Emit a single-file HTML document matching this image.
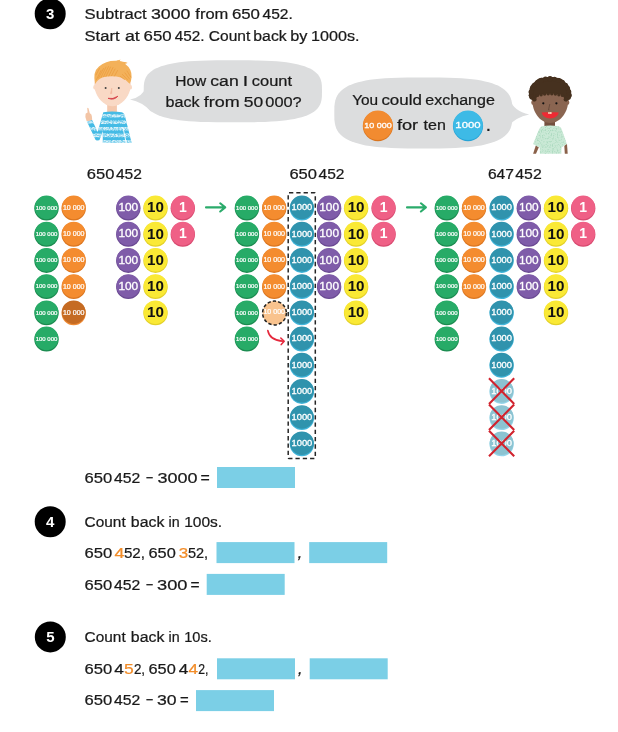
<!DOCTYPE html>
<html lang="en"><head><meta charset="utf-8"><title>Count back</title>
<style>html,body{margin:0;padding:0;background:#fff}svg{display:block}text{font-family:"Liberation Sans", sans-serif}</style>
</head><body>
<svg width="618" height="732" viewBox="0 0 618 732">
<rect width="618" height="732" fill="#fff"/>
<circle cx="50.2" cy="13.8" r="15.5" fill="#000"/>
<text x="50.2" y="19.1" font-size="15" font-weight="700" fill="#fff" text-anchor="middle">3</text>
<circle cx="50.2" cy="521.7" r="15.5" fill="#000"/>
<text x="50.2" y="527.0" font-size="15" font-weight="700" fill="#fff" text-anchor="middle">4</text>
<circle cx="50.3" cy="636.9" r="15.5" fill="#000"/>
<text x="50.3" y="642.2" font-size="15" font-weight="700" fill="#fff" text-anchor="middle">5</text>
<text x="84.6" y="19.4" font-size="15.5" fill="#1a1a1a" stroke="#1a1a1a" stroke-width="0.24" textLength="62.1" lengthAdjust="spacingAndGlyphs">Subtract</text>
<text x="150.9" y="19.4" font-size="15.5" fill="#1a1a1a" stroke="#1a1a1a" stroke-width="0.24" textLength="39.5" lengthAdjust="spacingAndGlyphs">3000</text>
<text x="195.3" y="19.4" font-size="15.5" fill="#1a1a1a" stroke="#1a1a1a" stroke-width="0.24" textLength="33.0" lengthAdjust="spacingAndGlyphs">from</text>
<text x="231.9" y="19.4" font-size="15.5" fill="#1a1a1a" stroke="#1a1a1a" stroke-width="0.24" textLength="28.1" lengthAdjust="spacingAndGlyphs">650</text>
<text x="262.5" y="19.4" font-size="15.5" fill="#1a1a1a" stroke="#1a1a1a" stroke-width="0.24" textLength="30.3" lengthAdjust="spacingAndGlyphs">452.</text>
<text x="84.6" y="40.9" font-size="15.5" fill="#1a1a1a" stroke="#1a1a1a" stroke-width="0.24" textLength="34.9" lengthAdjust="spacingAndGlyphs">Start</text>
<text x="124.9" y="40.9" font-size="15.5" fill="#1a1a1a" stroke="#1a1a1a" stroke-width="0.24" textLength="14.8" lengthAdjust="spacingAndGlyphs">at</text>
<text x="143.6" y="40.9" font-size="15.5" fill="#1a1a1a" stroke="#1a1a1a" stroke-width="0.24" textLength="28.1" lengthAdjust="spacingAndGlyphs">650</text>
<text x="174.7" y="40.9" font-size="15.5" fill="#1a1a1a" stroke="#1a1a1a" stroke-width="0.24" textLength="29.8" lengthAdjust="spacingAndGlyphs">452.</text>
<text x="208.8" y="40.9" font-size="15.5" fill="#1a1a1a" stroke="#1a1a1a" stroke-width="0.24" textLength="41.5" lengthAdjust="spacingAndGlyphs">Count</text>
<text x="253.3" y="40.9" font-size="15.5" fill="#1a1a1a" stroke="#1a1a1a" stroke-width="0.24" textLength="33.4" lengthAdjust="spacingAndGlyphs">back</text>
<text x="290.2" y="40.9" font-size="15.5" fill="#1a1a1a" stroke="#1a1a1a" stroke-width="0.24" textLength="17.2" lengthAdjust="spacingAndGlyphs">by</text>
<text x="311.0" y="40.9" font-size="15.5" fill="#1a1a1a" stroke="#1a1a1a" stroke-width="0.24" textLength="48.5" lengthAdjust="spacingAndGlyphs">1000s.</text>
<path d="M322.0 91.3 L321.9 96.9 L321.5 100.0 L320.9 102.5 L320.1 104.6 L319.0 106.6 L317.7 108.3 L316.1 109.9 L314.3 111.4 L312.3 112.8 L310.0 114.0 L307.4 115.2 L304.6 116.3 L301.6 117.2 L298.2 118.1 L294.6 118.9 L290.7 119.6 L286.4 120.3 L281.8 120.8 L276.7 121.3 L271.2 121.6 L265.0 121.9 L257.8 122.1 L249.1 122.3 L232.9 122.3 L216.6 122.3 L207.9 122.1 L200.7 121.9 L194.5 121.6 L189.0 121.3 L183.9 120.8 L179.3 120.3 L175.0 119.6 L171.1 118.9 L167.5 118.1 L164.1 117.2 L161.1 116.3 L158.3 115.2 L155.7 114.0 L153.4 112.8 L151.4 111.4 L149.6 109.9 L148.0 108.3 L146.7 106.6 L145.6 104.6 L144.8 102.5 L144.2 100.0 L143.8 96.9 L143.7 91.3 L143.8 85.7 L144.2 82.6 L144.8 80.1 L145.6 78.0 L146.7 76.0 L148.0 74.3 L149.6 72.7 L151.4 71.2 L153.4 69.8 L155.7 68.6 L158.3 67.4 L161.1 66.3 L164.1 65.4 L167.5 64.5 L171.1 63.7 L175.0 63.0 L179.3 62.3 L183.9 61.8 L189.0 61.3 L194.5 61.0 L200.7 60.7 L207.9 60.5 L216.6 60.3 L232.8 60.3 L249.1 60.3 L257.8 60.5 L265.0 60.7 L271.2 61.0 L276.7 61.3 L281.8 61.8 L286.4 62.3 L290.7 63.0 L294.6 63.7 L298.2 64.5 L301.6 65.4 L304.6 66.3 L307.4 67.4 L310.0 68.6 L312.3 69.8 L314.3 71.2 L316.1 72.7 L317.7 74.3 L319.0 76.0 L320.1 78.0 L320.9 80.1 L321.5 82.6 L321.9 85.7 Z" fill="#dcddde"/>
<path d="M146.5 86 Q143 97 130 99.6 Q142.5 102 151.5 112 Z" fill="#dcddde"/>
<text x="175.2" y="85.6" font-size="15.5" fill="#1a1a1a" stroke="#1a1a1a" stroke-width="0.24" textLength="31.0" lengthAdjust="spacingAndGlyphs">How</text>
<text x="210.3" y="85.6" font-size="15.5" fill="#1a1a1a" stroke="#1a1a1a" stroke-width="0.24" textLength="28.4" lengthAdjust="spacingAndGlyphs">can</text>
<text x="242.8" y="85.6" font-size="15.5" fill="#1a1a1a" stroke="#1a1a1a" stroke-width="0.24" textLength="5.4" lengthAdjust="spacingAndGlyphs">I</text>
<text x="251.8" y="85.6" font-size="15.5" fill="#1a1a1a" stroke="#1a1a1a" stroke-width="0.24" textLength="40.2" lengthAdjust="spacingAndGlyphs">count</text>
<text x="165.6" y="106.7" font-size="15.5" fill="#1a1a1a" stroke="#1a1a1a" stroke-width="0.24" textLength="34.1" lengthAdjust="spacingAndGlyphs">back</text>
<text x="203.8" y="106.7" font-size="15.5" fill="#1a1a1a" stroke="#1a1a1a" stroke-width="0.24" textLength="35.9" lengthAdjust="spacingAndGlyphs">from</text>
<text x="243.8" y="106.7" font-size="15.5" fill="#1a1a1a" stroke="#1a1a1a" stroke-width="0.24" textLength="19.4" lengthAdjust="spacingAndGlyphs">50</text>
<text x="265.3" y="106.7" font-size="15.5" fill="#1a1a1a" stroke="#1a1a1a" stroke-width="0.24" textLength="36.4" lengthAdjust="spacingAndGlyphs">000?</text>
<path d="M512.5 113.0 L512.4 119.4 L512.0 122.9 L511.4 125.7 L510.6 128.2 L509.5 130.4 L508.2 132.4 L506.6 134.2 L504.8 135.9 L502.8 137.5 L500.5 138.9 L498.0 140.3 L495.1 141.5 L492.1 142.6 L488.7 143.6 L485.1 144.5 L481.2 145.4 L476.9 146.1 L472.3 146.7 L467.2 147.2 L461.7 147.6 L455.5 148.0 L448.4 148.2 L439.6 148.4 L423.4 148.4 L407.2 148.4 L398.4 148.2 L391.3 148.0 L385.1 147.6 L379.6 147.2 L374.5 146.7 L369.9 146.1 L365.6 145.4 L361.7 144.5 L358.1 143.6 L354.7 142.6 L351.7 141.5 L348.8 140.3 L346.3 138.9 L344.0 137.5 L342.0 135.9 L340.2 134.2 L338.6 132.4 L337.3 130.4 L336.2 128.2 L335.4 125.7 L334.8 122.9 L334.4 119.4 L334.3 113.0 L334.4 106.5 L334.8 103.0 L335.4 100.2 L336.2 97.7 L337.3 95.5 L338.6 93.5 L340.2 91.7 L342.0 90.0 L344.0 88.4 L346.3 87.0 L348.8 85.6 L351.7 84.4 L354.7 83.3 L358.1 82.3 L361.7 81.4 L365.6 80.5 L369.9 79.8 L374.5 79.2 L379.6 78.7 L385.1 78.3 L391.3 77.9 L398.4 77.7 L407.2 77.5 L423.4 77.5 L439.6 77.5 L448.4 77.7 L455.5 77.9 L461.7 78.3 L467.2 78.7 L472.3 79.2 L476.9 79.8 L481.2 80.5 L485.1 81.4 L488.7 82.3 L492.1 83.3 L495.1 84.4 L498.0 85.6 L500.5 87.0 L502.8 88.4 L504.8 90.0 L506.6 91.7 L508.2 93.5 L509.5 95.5 L510.6 97.7 L511.4 100.2 L512.0 103.0 L512.4 106.5 Z" fill="#dcddde"/>
<path d="M510 99.5 Q513.5 111 529.2 114.5 Q515 117.5 507.5 127 Z" fill="#dcddde"/>
<text x="352.2" y="105.2" font-size="15.5" fill="#1a1a1a" stroke="#1a1a1a" stroke-width="0.24" textLength="26.0" lengthAdjust="spacingAndGlyphs">You</text>
<text x="381.4" y="105.2" font-size="15.5" fill="#1a1a1a" stroke="#1a1a1a" stroke-width="0.24" textLength="40.5" lengthAdjust="spacingAndGlyphs">could</text>
<text x="425.3" y="105.2" font-size="15.5" fill="#1a1a1a" stroke="#1a1a1a" stroke-width="0.24" textLength="69.6" lengthAdjust="spacingAndGlyphs">exchange</text>
<circle cx="377.9" cy="126.1" r="15.1" fill="#d9751f"/>
<circle cx="377.9" cy="125.2" r="14.8" fill="#f28b30"/>
<text x="377.9" y="127.7" font-size="7.6" stroke="#fff" stroke-width="0.3" fill="#fff" text-anchor="middle" textLength="27.5" lengthAdjust="spacingAndGlyphs">10 000</text>
<text x="396.9" y="129.8" font-size="15.5" fill="#1a1a1a" stroke="#1a1a1a" stroke-width="0.24" textLength="21.3" lengthAdjust="spacingAndGlyphs">for</text>
<text x="423.6" y="129.8" font-size="15.5" fill="#1a1a1a" stroke="#1a1a1a" stroke-width="0.24" textLength="22.3" lengthAdjust="spacingAndGlyphs">ten</text>
<circle cx="468.0" cy="126.1" r="15.1" fill="#27a3d6"/>
<circle cx="468.0" cy="125.2" r="14.8" fill="#3dbae6"/>
<text x="468.0" y="128.4" font-size="9.4" stroke="#fff" stroke-width="0.3" fill="#fff" text-anchor="middle" textLength="25.3" lengthAdjust="spacingAndGlyphs">1000</text>
<text x="486.3" y="130.6" font-size="15.5" font-weight="700" fill="#1a1a1a">.</text>
<g>
<defs><clipPath id="shirtclip"><path d="M103.3 112.3 Q112 110.6 121.7 112.3 Q124.3 113 125.2 117 L131.6 142.8 L102.8 142.8 L102.8 131 L99.5 140 Q98 141.6 95.6 140 L86.8 121.2 L92 119.8 L97.6 132 Z"/></clipPath></defs>
<rect x="107.2" y="102" width="9.7" height="10.5" fill="#f4c8ad"/>
<path d="M103.3 112.3 Q112 110.6 121.7 112.3 Q124.3 113 125.2 117 L131.6 142.8 L102.8 142.8 L102.8 131 L99.5 140 Q98 141.6 95.6 140 L86.8 121.2 L92 119.8 L97.6 132 Z" fill="#45bbe5"/>
<defs><filter id="rough" x="-5%" y="-5%" width="110%" height="110%"><feTurbulence type="fractalNoise" baseFrequency="0.55 0.9" numOctaves="2" seed="7" result="n"/><feColorMatrix in="n" type="matrix" values="0 0 0 0 1  0 0 0 0 1  0 0 0 0 1  0 0 0 3.2 -1.05" result="m"/><feComposite in="SourceGraphic" in2="m" operator="in"/></filter></defs>
<g clip-path="url(#shirtclip)"><g filter="url(#rough)" stroke="#e6f6fc" stroke-width="3.6" fill="none"><path d="M84 115.6 H134"/><path d="M84 122.3 H134"/><path d="M84 128.7 H134"/><path d="M84 135.4 H134"/><path d="M84 141.9 H134"/></g><g stroke="#bfe8f6" stroke-width="2.2" fill="none" opacity="0.45"><path d="M84 115.6 H134"/><path d="M84 122.3 H134"/><path d="M84 128.7 H134"/><path d="M84 135.4 H134"/><path d="M84 141.9 H134"/></g></g>
<path d="M122.9 127 L126.2 142.9" stroke="#fff" stroke-width="0.9" fill="none"/>
<path d="M86.6 121 Q84.6 117 85.6 113.8 Q86.6 112.6 87.6 112.4 L87.2 108.2 Q87.7 107.2 88.5 108.2 L89.8 113.2 Q91.6 113.6 91.8 116 L92.2 119.8 Q89 121.5 86.6 121 Z" fill="#f3c5a6"/>
<path d="M94.3 84 C94.3 92.5 98.6 100 105.5 104.3 Q112.5 108.2 119.5 104.3 C126.4 100 130.8 92.5 130.8 84 C130.8 70 122 64 112.5 64 C103 64 94.3 70 94.3 84 Z" fill="#f9d9c5"/>
<ellipse cx="94.6" cy="87.2" rx="1.3" ry="2.2" fill="#f9d9c5"/><ellipse cx="130.7" cy="87.2" rx="1.3" ry="2.2" fill="#f9d9c5"/>
<path d="M95.2 84 Q92.3 72 99 66.5 Q106 60.5 116 60.8 L118.5 60.2 L119 61 L127.5 63.2 L125 63.8 Q132 69 131.6 77 Q131.4 81 129.6 83.8 Q126.5 79.5 121 77.4 Q112 75.4 103 77.3 Q97.5 79.5 95.2 84 Z" fill="#f3b15a"/>
<g stroke="#e9983a" stroke-width="0.75" fill="none" opacity="0.85" stroke-linecap="round"><path d="M96.5 79.5 L101 70.5"/><path d="M98.5 78 L103.5 68.5"/><path d="M101 77.3 L106 67"/><path d="M103.5 76.8 L108.5 66.5"/><path d="M106 76.4 L110.5 67"/><path d="M108.8 76 L113 67.5"/><path d="M111.5 75.8 L115 69"/><path d="M114.5 76 L117.5 70.5"/><path d="M96 75 L99.5 68.5"/><path d="M120.5 76.5 L124.5 79.5"/><path d="M122.5 74.5 L127.5 79.8"/><path d="M125 73 L129.5 79"/><path d="M127 71 L130.8 77"/></g>
<path d="M116 61.2 L120.5 59.6 L119.5 61.2 L127.8 62.6 L122 64 Z" fill="#f3b15a"/>
<circle cx="105.6" cy="87.9" r="1.0" fill="#404040"/><circle cx="118.8" cy="87.9" r="1.0" fill="#404040"/>
<path d="M111.8 88 L110.4 93.8 L111.9 93.6 Z" fill="#f0b69c" stroke="#f0b69c" stroke-width="0.5"/>
<path d="M108 98.3 Q112.5 99.6 117.9 96.2 Q114 100.8 108 98.3 Z" fill="#d3353f" stroke="#d3353f" stroke-width="0.7" stroke-linejoin="round"/>
</g>
<g>
<path d="M535.8 145.6 L538.8 147.2 L536 153.8 L533.1 153.8 Z" fill="#8a6049"/><path d="M564.3 145.8 L567 144 L567.7 153.8 L564.8 153.8 Z" fill="#8a6049"/>
<path d="M564 146 L567.2 144.5 L570.4 153.8 L567.3 153.8 Z" fill="#8a6049" opacity="0"/>
<rect x="544.4" y="118" width="10.6" height="8.6" fill="#74503f"/>
<path d="M541.8 126.3 Q550 124.8 558.8 126.3 Q561 127 562 130 L566.7 143.8 L561.5 147.6 L561.3 153.8 L539.9 153.8 L539.8 147.6 L533.1 144 L539 129.5 Q540 127 541.8 126.3 Z" fill="#cae9d6"/>
<defs><filter id="speck" x="-5%" y="-5%" width="110%" height="110%"><feTurbulence type="fractalNoise" baseFrequency="0.8 0.6" numOctaves="2" seed="3" result="n"/><feColorMatrix in="n" type="matrix" values="0 0 0 0 1  0 0 0 0 1  0 0 0 0 1  0 0 0 3.4 -1.6" result="m"/><feComposite in="SourceGraphic" in2="m" operator="in"/></filter></defs>
<path filter="url(#speck)" d="M541.8 126.3 Q550 124.8 558.8 126.3 Q561 127 562 130 L566.7 143.8 L561.5 147.6 L561.3 153.8 L539.9 153.8 L539.8 147.6 L533.1 144 L539 129.5 Q540 127 541.8 126.3 Z" fill="#86c7a2" opacity="0.42"/>
<path d="M532.3 100 C532.3 112 540 123 550.2 123 C560.4 123 568.3 112 568.3 100 C568.3 88 560 84 550.2 84 C540 84 532.3 88 532.3 100 Z" fill="#8a6551"/>
<ellipse cx="532.8" cy="102.4" rx="1.5" ry="2.4" fill="#8a6551"/><ellipse cx="567.8" cy="102.4" rx="1.5" ry="2.4" fill="#8a6551"/>
<path d="M533.5 101.5 Q528.5 97 529.2 91.5 Q529.5 85 534.5 82 Q538 77.2 544.5 77.8 Q550 75.6 555.5 77.8 Q562.5 77.6 565.5 82.5 Q570.8 86 570.6 92.5 Q571 97.5 566.8 101.6 Q565.2 101.5 564.5 99 Q563.5 95.6 560.5 94.6 Q551 92.6 540 94.6 Q537 95.6 536 99 Q535.2 101.5 533.5 101.5 Z" fill="#46311f"/>
<g fill="#46311f"><circle cx="531.7" cy="97.3" r="2.4"/><circle cx="530.9" cy="95.2" r="2.3"/><circle cx="531.0" cy="92.0" r="2.5"/><circle cx="532.3" cy="88.5" r="2.4"/><circle cx="534.5" cy="85.2" r="2.3"/><circle cx="537.5" cy="82.5" r="2.5"/><circle cx="541.3" cy="80.4" r="2.7"/><circle cx="545.5" cy="79.1" r="2.6"/><circle cx="550.0" cy="78.7" r="2.6"/><circle cx="554.5" cy="79.1" r="2.4"/><circle cx="558.7" cy="80.4" r="2.5"/><circle cx="562.5" cy="82.5" r="2.4"/><circle cx="565.5" cy="85.2" r="2.4"/><circle cx="567.7" cy="88.5" r="2.3"/><circle cx="569.0" cy="92.0" r="2.4"/><circle cx="569.1" cy="95.2" r="2.7"/><circle cx="568.3" cy="97.3" r="2.6"/><circle cx="537.5" cy="95.4" r="1.7"/><circle cx="541.1" cy="94.7" r="1.7"/><circle cx="544.6" cy="94.1" r="1.7"/><circle cx="548.2" cy="93.8" r="1.7"/><circle cx="551.8" cy="93.8" r="1.7"/><circle cx="555.4" cy="94.1" r="1.7"/><circle cx="558.9" cy="94.7" r="1.7"/><circle cx="562.5" cy="95.4" r="1.7"/><circle cx="534.6" cy="99.6" r="2"/><circle cx="565.6" cy="99.6" r="2"/></g>
<circle cx="543.3" cy="103.3" r="1.1" fill="#111"/><circle cx="556.4" cy="103.3" r="1.1" fill="#111"/>
<path d="M549.8 104 L548.5 109.9 L549.4 109.9" fill="none" stroke="#5a4034" stroke-width="0.7"/>
<path d="M541.6 112.6 Q545.5 112 550 112.6 Q554.5 112 558.8 112.6 Q557.4 118.4 550.2 118.4 Q543 118.4 541.6 112.6 Z" fill="#ee2a33"/>
<rect x="548.2" y="112.2" width="1.6" height="1.6" fill="#fbf3d4"/><rect x="550" y="112.2" width="1.6" height="1.6" fill="#fbf3d4"/>
</g>
<text x="86.8" y="179.4" font-size="15.5" fill="#1a1a1a" stroke="#1a1a1a" stroke-width="0.24" textLength="27.6" lengthAdjust="spacingAndGlyphs">650</text>
<text x="115.9" y="179.4" font-size="15.5" fill="#1a1a1a" stroke="#1a1a1a" stroke-width="0.24" textLength="26.0" lengthAdjust="spacingAndGlyphs">452</text>
<text x="289.4" y="179.4" font-size="15.5" fill="#1a1a1a" stroke="#1a1a1a" stroke-width="0.24" textLength="27.6" lengthAdjust="spacingAndGlyphs">650</text>
<text x="318.5" y="179.4" font-size="15.5" fill="#1a1a1a" stroke="#1a1a1a" stroke-width="0.24" textLength="26.0" lengthAdjust="spacingAndGlyphs">452</text>
<text x="487.9" y="179.4" font-size="15.5" fill="#1a1a1a" stroke="#1a1a1a" stroke-width="0.24" textLength="26.0" lengthAdjust="spacingAndGlyphs">647</text>
<text x="515.3" y="179.4" font-size="15.5" fill="#1a1a1a" stroke="#1a1a1a" stroke-width="0.24" textLength="26.4" lengthAdjust="spacingAndGlyphs">452</text>
<g>
<circle cx="46.5" cy="208.3" r="12.2" fill="#1b8a4f"/>
<circle cx="46.5" cy="207.4" r="11.8" fill="#27ab67"/>
<text x="46.5" y="209.7" font-size="5.8" stroke="#fff" stroke-width="0.22" fill="#fff" text-anchor="middle" textLength="21.7" lengthAdjust="spacingAndGlyphs">100 000</text>
</g>
<g>
<circle cx="46.5" cy="234.5" r="12.2" fill="#1b8a4f"/>
<circle cx="46.5" cy="233.6" r="11.8" fill="#27ab67"/>
<text x="46.5" y="235.9" font-size="5.8" stroke="#fff" stroke-width="0.22" fill="#fff" text-anchor="middle" textLength="21.7" lengthAdjust="spacingAndGlyphs">100 000</text>
</g>
<g>
<circle cx="46.5" cy="260.7" r="12.2" fill="#1b8a4f"/>
<circle cx="46.5" cy="259.8" r="11.8" fill="#27ab67"/>
<text x="46.5" y="262.1" font-size="5.8" stroke="#fff" stroke-width="0.22" fill="#fff" text-anchor="middle" textLength="21.7" lengthAdjust="spacingAndGlyphs">100 000</text>
</g>
<g>
<circle cx="46.5" cy="286.9" r="12.2" fill="#1b8a4f"/>
<circle cx="46.5" cy="286.0" r="11.8" fill="#27ab67"/>
<text x="46.5" y="288.3" font-size="5.8" stroke="#fff" stroke-width="0.22" fill="#fff" text-anchor="middle" textLength="21.7" lengthAdjust="spacingAndGlyphs">100 000</text>
</g>
<g>
<circle cx="46.5" cy="313.1" r="12.2" fill="#1b8a4f"/>
<circle cx="46.5" cy="312.2" r="11.8" fill="#27ab67"/>
<text x="46.5" y="314.5" font-size="5.8" stroke="#fff" stroke-width="0.22" fill="#fff" text-anchor="middle" textLength="21.7" lengthAdjust="spacingAndGlyphs">100 000</text>
</g>
<g>
<circle cx="46.5" cy="339.3" r="12.2" fill="#1b8a4f"/>
<circle cx="46.5" cy="338.4" r="11.8" fill="#27ab67"/>
<text x="46.5" y="340.7" font-size="5.8" stroke="#fff" stroke-width="0.22" fill="#fff" text-anchor="middle" textLength="21.7" lengthAdjust="spacingAndGlyphs">100 000</text>
</g>
<g>
<circle cx="73.7" cy="208.3" r="12.2" fill="#db7620"/>
<circle cx="73.7" cy="207.4" r="11.8" fill="#f48c2f"/>
<text x="73.7" y="210.0" font-size="6.8" stroke="#fff" stroke-width="0.22" fill="#fff" text-anchor="middle" textLength="21.6" lengthAdjust="spacingAndGlyphs">10 000</text>
</g>
<g>
<circle cx="73.7" cy="234.5" r="12.2" fill="#db7620"/>
<circle cx="73.7" cy="233.6" r="11.8" fill="#f48c2f"/>
<text x="73.7" y="236.2" font-size="6.8" stroke="#fff" stroke-width="0.22" fill="#fff" text-anchor="middle" textLength="21.6" lengthAdjust="spacingAndGlyphs">10 000</text>
</g>
<g>
<circle cx="73.7" cy="260.7" r="12.2" fill="#db7620"/>
<circle cx="73.7" cy="259.8" r="11.8" fill="#f48c2f"/>
<text x="73.7" y="262.4" font-size="6.8" stroke="#fff" stroke-width="0.22" fill="#fff" text-anchor="middle" textLength="21.6" lengthAdjust="spacingAndGlyphs">10 000</text>
</g>
<g>
<circle cx="73.7" cy="286.9" r="12.2" fill="#db7620"/>
<circle cx="73.7" cy="286.0" r="11.8" fill="#f48c2f"/>
<text x="73.7" y="288.6" font-size="6.8" stroke="#fff" stroke-width="0.22" fill="#fff" text-anchor="middle" textLength="21.6" lengthAdjust="spacingAndGlyphs">10 000</text>
</g>
<g>
<circle cx="73.7" cy="313.1" r="12.2" fill="#ee8a35"/>
<circle cx="73.7" cy="312.2" r="11.8" fill="#c56b23"/>
<text x="73.7" y="314.8" font-size="6.8" stroke="#fff" stroke-width="0.22" fill="#fff" text-anchor="middle" textLength="21.6" lengthAdjust="spacingAndGlyphs">10 000</text>
</g>
<g>
<circle cx="128.3" cy="208.3" r="12.2" fill="#6a4992"/>
<circle cx="128.3" cy="207.4" r="11.8" fill="#7f5ca9"/>
<text x="128.3" y="211.1" font-size="10.8" stroke="#fff" stroke-width="0.3" fill="#fff" text-anchor="middle" textLength="19.8" lengthAdjust="spacingAndGlyphs">100</text>
</g>
<g>
<circle cx="128.3" cy="234.5" r="12.2" fill="#6a4992"/>
<circle cx="128.3" cy="233.6" r="11.8" fill="#7f5ca9"/>
<text x="128.3" y="237.3" font-size="10.8" stroke="#fff" stroke-width="0.3" fill="#fff" text-anchor="middle" textLength="19.8" lengthAdjust="spacingAndGlyphs">100</text>
</g>
<g>
<circle cx="128.3" cy="260.7" r="12.2" fill="#6a4992"/>
<circle cx="128.3" cy="259.8" r="11.8" fill="#7f5ca9"/>
<text x="128.3" y="263.5" font-size="10.8" stroke="#fff" stroke-width="0.3" fill="#fff" text-anchor="middle" textLength="19.8" lengthAdjust="spacingAndGlyphs">100</text>
</g>
<g>
<circle cx="128.3" cy="286.9" r="12.2" fill="#6a4992"/>
<circle cx="128.3" cy="286.0" r="11.8" fill="#7f5ca9"/>
<text x="128.3" y="289.7" font-size="10.8" stroke="#fff" stroke-width="0.3" fill="#fff" text-anchor="middle" textLength="19.8" lengthAdjust="spacingAndGlyphs">100</text>
</g>
<g>
<circle cx="155.5" cy="208.3" r="12.2" fill="#e3d128"/>
<circle cx="155.5" cy="207.4" r="11.8" fill="#fae935"/>
<text x="155.5" y="212.3" font-size="14.2" font-weight="700" fill="#111" text-anchor="middle" textLength="16.9" lengthAdjust="spacingAndGlyphs">10</text>
</g>
<g>
<circle cx="155.5" cy="234.5" r="12.2" fill="#e3d128"/>
<circle cx="155.5" cy="233.6" r="11.8" fill="#fae935"/>
<text x="155.5" y="238.5" font-size="14.2" font-weight="700" fill="#111" text-anchor="middle" textLength="16.9" lengthAdjust="spacingAndGlyphs">10</text>
</g>
<g>
<circle cx="155.5" cy="260.7" r="12.2" fill="#e3d128"/>
<circle cx="155.5" cy="259.8" r="11.8" fill="#fae935"/>
<text x="155.5" y="264.7" font-size="14.2" font-weight="700" fill="#111" text-anchor="middle" textLength="16.9" lengthAdjust="spacingAndGlyphs">10</text>
</g>
<g>
<circle cx="155.5" cy="286.9" r="12.2" fill="#e3d128"/>
<circle cx="155.5" cy="286.0" r="11.8" fill="#fae935"/>
<text x="155.5" y="290.9" font-size="14.2" font-weight="700" fill="#111" text-anchor="middle" textLength="16.9" lengthAdjust="spacingAndGlyphs">10</text>
</g>
<g>
<circle cx="155.5" cy="313.1" r="12.2" fill="#e3d128"/>
<circle cx="155.5" cy="312.2" r="11.8" fill="#fae935"/>
<text x="155.5" y="317.1" font-size="14.2" font-weight="700" fill="#111" text-anchor="middle" textLength="16.9" lengthAdjust="spacingAndGlyphs">10</text>
</g>
<g>
<circle cx="182.8" cy="208.3" r="12.2" fill="#d84a70"/>
<circle cx="182.8" cy="207.4" r="11.8" fill="#ef6086"/>
<text x="182.8" y="212.2" font-size="14" font-weight="700" fill="#fff" text-anchor="middle">1</text>
</g>
<g>
<circle cx="182.8" cy="234.5" r="12.2" fill="#d84a70"/>
<circle cx="182.8" cy="233.6" r="11.8" fill="#ef6086"/>
<text x="182.8" y="238.4" font-size="14" font-weight="700" fill="#fff" text-anchor="middle">1</text>
</g>
<path d="M206.0 207.4 H225.2 M220.2 203.3 L225.2 207.4 L220.2 211.5" fill="none" stroke="#2bab6b" stroke-width="2.1" stroke-linecap="round" stroke-linejoin="round"/>
<path d="M407.0 207.4 H425.9 M420.9 203.3 L425.9 207.4 L420.9 211.5" fill="none" stroke="#2bab6b" stroke-width="2.1" stroke-linecap="round" stroke-linejoin="round"/>
<g>
<circle cx="246.9" cy="208.3" r="12.2" fill="#1b8a4f"/>
<circle cx="246.9" cy="207.4" r="11.8" fill="#27ab67"/>
<text x="246.9" y="209.7" font-size="5.8" stroke="#fff" stroke-width="0.22" fill="#fff" text-anchor="middle" textLength="21.7" lengthAdjust="spacingAndGlyphs">100 000</text>
</g>
<g>
<circle cx="246.9" cy="234.5" r="12.2" fill="#1b8a4f"/>
<circle cx="246.9" cy="233.6" r="11.8" fill="#27ab67"/>
<text x="246.9" y="235.9" font-size="5.8" stroke="#fff" stroke-width="0.22" fill="#fff" text-anchor="middle" textLength="21.7" lengthAdjust="spacingAndGlyphs">100 000</text>
</g>
<g>
<circle cx="246.9" cy="260.7" r="12.2" fill="#1b8a4f"/>
<circle cx="246.9" cy="259.8" r="11.8" fill="#27ab67"/>
<text x="246.9" y="262.1" font-size="5.8" stroke="#fff" stroke-width="0.22" fill="#fff" text-anchor="middle" textLength="21.7" lengthAdjust="spacingAndGlyphs">100 000</text>
</g>
<g>
<circle cx="246.9" cy="286.9" r="12.2" fill="#1b8a4f"/>
<circle cx="246.9" cy="286.0" r="11.8" fill="#27ab67"/>
<text x="246.9" y="288.3" font-size="5.8" stroke="#fff" stroke-width="0.22" fill="#fff" text-anchor="middle" textLength="21.7" lengthAdjust="spacingAndGlyphs">100 000</text>
</g>
<g>
<circle cx="246.9" cy="313.1" r="12.2" fill="#1b8a4f"/>
<circle cx="246.9" cy="312.2" r="11.8" fill="#27ab67"/>
<text x="246.9" y="314.5" font-size="5.8" stroke="#fff" stroke-width="0.22" fill="#fff" text-anchor="middle" textLength="21.7" lengthAdjust="spacingAndGlyphs">100 000</text>
</g>
<g>
<circle cx="246.9" cy="339.3" r="12.2" fill="#1b8a4f"/>
<circle cx="246.9" cy="338.4" r="11.8" fill="#27ab67"/>
<text x="246.9" y="340.7" font-size="5.8" stroke="#fff" stroke-width="0.22" fill="#fff" text-anchor="middle" textLength="21.7" lengthAdjust="spacingAndGlyphs">100 000</text>
</g>
<g>
<circle cx="274.2" cy="208.3" r="12.2" fill="#db7620"/>
<circle cx="274.2" cy="207.4" r="11.8" fill="#f48c2f"/>
<text x="274.2" y="210.0" font-size="6.8" stroke="#fff" stroke-width="0.22" fill="#fff" text-anchor="middle" textLength="21.6" lengthAdjust="spacingAndGlyphs">10 000</text>
</g>
<g>
<circle cx="274.2" cy="234.5" r="12.2" fill="#db7620"/>
<circle cx="274.2" cy="233.6" r="11.8" fill="#f48c2f"/>
<text x="274.2" y="236.2" font-size="6.8" stroke="#fff" stroke-width="0.22" fill="#fff" text-anchor="middle" textLength="21.6" lengthAdjust="spacingAndGlyphs">10 000</text>
</g>
<g>
<circle cx="274.2" cy="260.7" r="12.2" fill="#db7620"/>
<circle cx="274.2" cy="259.8" r="11.8" fill="#f48c2f"/>
<text x="274.2" y="262.4" font-size="6.8" stroke="#fff" stroke-width="0.22" fill="#fff" text-anchor="middle" textLength="21.6" lengthAdjust="spacingAndGlyphs">10 000</text>
</g>
<g>
<circle cx="274.2" cy="286.9" r="12.2" fill="#db7620"/>
<circle cx="274.2" cy="286.0" r="11.8" fill="#f48c2f"/>
<text x="274.2" y="288.6" font-size="6.8" stroke="#fff" stroke-width="0.22" fill="#fff" text-anchor="middle" textLength="21.6" lengthAdjust="spacingAndGlyphs">10 000</text>
</g>
<circle cx="274.5" cy="313.0" r="11.9" fill="#f9c38e" stroke="#222" stroke-width="1.5" stroke-dasharray="3.3 2.1"/>
<text x="274.2" y="314.2" font-size="6.8" stroke="#fff" stroke-width="0.2" fill="#fff" text-anchor="middle" textLength="21.6" lengthAdjust="spacingAndGlyphs">10 000</text>
<g>
<circle cx="301.9" cy="208.3" r="12.2" fill="#3fb4d9"/>
<circle cx="301.9" cy="207.4" r="11.8" fill="#3093ad"/>
<text x="301.9" y="210.4" font-size="8.9" stroke="#fff" stroke-width="0.3" fill="#fff" text-anchor="middle" textLength="20.8" lengthAdjust="spacingAndGlyphs">1000</text>
</g>
<g>
<circle cx="301.9" cy="234.5" r="12.2" fill="#3fb4d9"/>
<circle cx="301.9" cy="233.6" r="11.8" fill="#3093ad"/>
<text x="301.9" y="236.6" font-size="8.9" stroke="#fff" stroke-width="0.3" fill="#fff" text-anchor="middle" textLength="20.8" lengthAdjust="spacingAndGlyphs">1000</text>
</g>
<g>
<circle cx="301.9" cy="260.7" r="12.2" fill="#3fb4d9"/>
<circle cx="301.9" cy="259.8" r="11.8" fill="#3093ad"/>
<text x="301.9" y="262.8" font-size="8.9" stroke="#fff" stroke-width="0.3" fill="#fff" text-anchor="middle" textLength="20.8" lengthAdjust="spacingAndGlyphs">1000</text>
</g>
<g>
<circle cx="301.9" cy="286.9" r="12.2" fill="#3fb4d9"/>
<circle cx="301.9" cy="286.0" r="11.8" fill="#3093ad"/>
<text x="301.9" y="289.0" font-size="8.9" stroke="#fff" stroke-width="0.3" fill="#fff" text-anchor="middle" textLength="20.8" lengthAdjust="spacingAndGlyphs">1000</text>
</g>
<g>
<circle cx="301.9" cy="313.1" r="12.2" fill="#3fb4d9"/>
<circle cx="301.9" cy="312.2" r="11.8" fill="#3093ad"/>
<text x="301.9" y="315.2" font-size="8.9" stroke="#fff" stroke-width="0.3" fill="#fff" text-anchor="middle" textLength="20.8" lengthAdjust="spacingAndGlyphs">1000</text>
</g>
<g>
<circle cx="301.9" cy="339.3" r="12.2" fill="#3fb4d9"/>
<circle cx="301.9" cy="338.4" r="11.8" fill="#3093ad"/>
<text x="301.9" y="341.4" font-size="8.9" stroke="#fff" stroke-width="0.3" fill="#fff" text-anchor="middle" textLength="20.8" lengthAdjust="spacingAndGlyphs">1000</text>
</g>
<g>
<circle cx="301.9" cy="365.5" r="12.2" fill="#3fb4d9"/>
<circle cx="301.9" cy="364.6" r="11.8" fill="#3093ad"/>
<text x="301.9" y="367.6" font-size="8.9" stroke="#fff" stroke-width="0.3" fill="#fff" text-anchor="middle" textLength="20.8" lengthAdjust="spacingAndGlyphs">1000</text>
</g>
<g>
<circle cx="301.9" cy="391.7" r="12.2" fill="#3fb4d9"/>
<circle cx="301.9" cy="390.8" r="11.8" fill="#3093ad"/>
<text x="301.9" y="393.8" font-size="8.9" stroke="#fff" stroke-width="0.3" fill="#fff" text-anchor="middle" textLength="20.8" lengthAdjust="spacingAndGlyphs">1000</text>
</g>
<g>
<circle cx="301.9" cy="417.9" r="12.2" fill="#3fb4d9"/>
<circle cx="301.9" cy="417.0" r="11.8" fill="#3093ad"/>
<text x="301.9" y="420.0" font-size="8.9" stroke="#fff" stroke-width="0.3" fill="#fff" text-anchor="middle" textLength="20.8" lengthAdjust="spacingAndGlyphs">1000</text>
</g>
<g>
<circle cx="301.9" cy="444.1" r="12.2" fill="#3fb4d9"/>
<circle cx="301.9" cy="443.2" r="11.8" fill="#3093ad"/>
<text x="301.9" y="446.2" font-size="8.9" stroke="#fff" stroke-width="0.3" fill="#fff" text-anchor="middle" textLength="20.8" lengthAdjust="spacingAndGlyphs">1000</text>
</g>
<g>
<circle cx="329.1" cy="208.3" r="12.2" fill="#6a4992"/>
<circle cx="329.1" cy="207.4" r="11.8" fill="#7f5ca9"/>
<text x="329.1" y="211.1" font-size="10.8" stroke="#fff" stroke-width="0.3" fill="#fff" text-anchor="middle" textLength="19.8" lengthAdjust="spacingAndGlyphs">100</text>
</g>
<g>
<circle cx="329.1" cy="234.5" r="12.2" fill="#6a4992"/>
<circle cx="329.1" cy="233.6" r="11.8" fill="#7f5ca9"/>
<text x="329.1" y="237.3" font-size="10.8" stroke="#fff" stroke-width="0.3" fill="#fff" text-anchor="middle" textLength="19.8" lengthAdjust="spacingAndGlyphs">100</text>
</g>
<g>
<circle cx="329.1" cy="260.7" r="12.2" fill="#6a4992"/>
<circle cx="329.1" cy="259.8" r="11.8" fill="#7f5ca9"/>
<text x="329.1" y="263.5" font-size="10.8" stroke="#fff" stroke-width="0.3" fill="#fff" text-anchor="middle" textLength="19.8" lengthAdjust="spacingAndGlyphs">100</text>
</g>
<g>
<circle cx="329.1" cy="286.9" r="12.2" fill="#6a4992"/>
<circle cx="329.1" cy="286.0" r="11.8" fill="#7f5ca9"/>
<text x="329.1" y="289.7" font-size="10.8" stroke="#fff" stroke-width="0.3" fill="#fff" text-anchor="middle" textLength="19.8" lengthAdjust="spacingAndGlyphs">100</text>
</g>
<g>
<circle cx="356.1" cy="208.3" r="12.2" fill="#e3d128"/>
<circle cx="356.1" cy="207.4" r="11.8" fill="#fae935"/>
<text x="356.1" y="212.3" font-size="14.2" font-weight="700" fill="#111" text-anchor="middle" textLength="16.9" lengthAdjust="spacingAndGlyphs">10</text>
</g>
<g>
<circle cx="356.1" cy="234.5" r="12.2" fill="#e3d128"/>
<circle cx="356.1" cy="233.6" r="11.8" fill="#fae935"/>
<text x="356.1" y="238.5" font-size="14.2" font-weight="700" fill="#111" text-anchor="middle" textLength="16.9" lengthAdjust="spacingAndGlyphs">10</text>
</g>
<g>
<circle cx="356.1" cy="260.7" r="12.2" fill="#e3d128"/>
<circle cx="356.1" cy="259.8" r="11.8" fill="#fae935"/>
<text x="356.1" y="264.7" font-size="14.2" font-weight="700" fill="#111" text-anchor="middle" textLength="16.9" lengthAdjust="spacingAndGlyphs">10</text>
</g>
<g>
<circle cx="356.1" cy="286.9" r="12.2" fill="#e3d128"/>
<circle cx="356.1" cy="286.0" r="11.8" fill="#fae935"/>
<text x="356.1" y="290.9" font-size="14.2" font-weight="700" fill="#111" text-anchor="middle" textLength="16.9" lengthAdjust="spacingAndGlyphs">10</text>
</g>
<g>
<circle cx="356.1" cy="313.1" r="12.2" fill="#e3d128"/>
<circle cx="356.1" cy="312.2" r="11.8" fill="#fae935"/>
<text x="356.1" y="317.1" font-size="14.2" font-weight="700" fill="#111" text-anchor="middle" textLength="16.9" lengthAdjust="spacingAndGlyphs">10</text>
</g>
<g>
<circle cx="383.6" cy="208.3" r="12.2" fill="#d84a70"/>
<circle cx="383.6" cy="207.4" r="11.8" fill="#ef6086"/>
<text x="383.6" y="212.2" font-size="14" font-weight="700" fill="#fff" text-anchor="middle">1</text>
</g>
<g>
<circle cx="383.6" cy="234.5" r="12.2" fill="#d84a70"/>
<circle cx="383.6" cy="233.6" r="11.8" fill="#ef6086"/>
<text x="383.6" y="238.4" font-size="14" font-weight="700" fill="#fff" text-anchor="middle">1</text>
</g>
<rect x="288.2" y="192.8" width="27.1" height="265.7" rx="0.8" fill="none" stroke="#262626" stroke-width="1.5" stroke-dasharray="4.3 3"/>
<path d="M267.8 330.5 Q269.5 340.2 283.2 341.3" fill="none" stroke="#e5283c" stroke-width="1.55" stroke-linecap="round"/>
<path d="M280.8 338 L284.2 341.3 L281.2 344.6" fill="none" stroke="#e5283c" stroke-width="1.55" stroke-linecap="round" stroke-linejoin="round"/>
<g>
<circle cx="446.8" cy="208.3" r="12.2" fill="#1b8a4f"/>
<circle cx="446.8" cy="207.4" r="11.8" fill="#27ab67"/>
<text x="446.8" y="209.7" font-size="5.8" stroke="#fff" stroke-width="0.22" fill="#fff" text-anchor="middle" textLength="21.7" lengthAdjust="spacingAndGlyphs">100 000</text>
</g>
<g>
<circle cx="446.8" cy="234.5" r="12.2" fill="#1b8a4f"/>
<circle cx="446.8" cy="233.6" r="11.8" fill="#27ab67"/>
<text x="446.8" y="235.9" font-size="5.8" stroke="#fff" stroke-width="0.22" fill="#fff" text-anchor="middle" textLength="21.7" lengthAdjust="spacingAndGlyphs">100 000</text>
</g>
<g>
<circle cx="446.8" cy="260.7" r="12.2" fill="#1b8a4f"/>
<circle cx="446.8" cy="259.8" r="11.8" fill="#27ab67"/>
<text x="446.8" y="262.1" font-size="5.8" stroke="#fff" stroke-width="0.22" fill="#fff" text-anchor="middle" textLength="21.7" lengthAdjust="spacingAndGlyphs">100 000</text>
</g>
<g>
<circle cx="446.8" cy="286.9" r="12.2" fill="#1b8a4f"/>
<circle cx="446.8" cy="286.0" r="11.8" fill="#27ab67"/>
<text x="446.8" y="288.3" font-size="5.8" stroke="#fff" stroke-width="0.22" fill="#fff" text-anchor="middle" textLength="21.7" lengthAdjust="spacingAndGlyphs">100 000</text>
</g>
<g>
<circle cx="446.8" cy="313.1" r="12.2" fill="#1b8a4f"/>
<circle cx="446.8" cy="312.2" r="11.8" fill="#27ab67"/>
<text x="446.8" y="314.5" font-size="5.8" stroke="#fff" stroke-width="0.22" fill="#fff" text-anchor="middle" textLength="21.7" lengthAdjust="spacingAndGlyphs">100 000</text>
</g>
<g>
<circle cx="446.8" cy="339.3" r="12.2" fill="#1b8a4f"/>
<circle cx="446.8" cy="338.4" r="11.8" fill="#27ab67"/>
<text x="446.8" y="340.7" font-size="5.8" stroke="#fff" stroke-width="0.22" fill="#fff" text-anchor="middle" textLength="21.7" lengthAdjust="spacingAndGlyphs">100 000</text>
</g>
<g>
<circle cx="474.0" cy="208.3" r="12.2" fill="#db7620"/>
<circle cx="474.0" cy="207.4" r="11.8" fill="#f48c2f"/>
<text x="474.0" y="210.0" font-size="6.8" stroke="#fff" stroke-width="0.22" fill="#fff" text-anchor="middle" textLength="21.6" lengthAdjust="spacingAndGlyphs">10 000</text>
</g>
<g>
<circle cx="474.0" cy="234.5" r="12.2" fill="#db7620"/>
<circle cx="474.0" cy="233.6" r="11.8" fill="#f48c2f"/>
<text x="474.0" y="236.2" font-size="6.8" stroke="#fff" stroke-width="0.22" fill="#fff" text-anchor="middle" textLength="21.6" lengthAdjust="spacingAndGlyphs">10 000</text>
</g>
<g>
<circle cx="474.0" cy="260.7" r="12.2" fill="#db7620"/>
<circle cx="474.0" cy="259.8" r="11.8" fill="#f48c2f"/>
<text x="474.0" y="262.4" font-size="6.8" stroke="#fff" stroke-width="0.22" fill="#fff" text-anchor="middle" textLength="21.6" lengthAdjust="spacingAndGlyphs">10 000</text>
</g>
<g>
<circle cx="474.0" cy="286.9" r="12.2" fill="#db7620"/>
<circle cx="474.0" cy="286.0" r="11.8" fill="#f48c2f"/>
<text x="474.0" y="288.6" font-size="6.8" stroke="#fff" stroke-width="0.22" fill="#fff" text-anchor="middle" textLength="21.6" lengthAdjust="spacingAndGlyphs">10 000</text>
</g>
<g>
<circle cx="501.6" cy="208.3" r="12.2" fill="#3fb4d9"/>
<circle cx="501.6" cy="207.4" r="11.8" fill="#3093ad"/>
<text x="501.6" y="210.4" font-size="8.9" stroke="#fff" stroke-width="0.3" fill="#fff" text-anchor="middle" textLength="20.8" lengthAdjust="spacingAndGlyphs">1000</text>
</g>
<g>
<circle cx="501.6" cy="234.5" r="12.2" fill="#3fb4d9"/>
<circle cx="501.6" cy="233.6" r="11.8" fill="#3093ad"/>
<text x="501.6" y="236.6" font-size="8.9" stroke="#fff" stroke-width="0.3" fill="#fff" text-anchor="middle" textLength="20.8" lengthAdjust="spacingAndGlyphs">1000</text>
</g>
<g>
<circle cx="501.6" cy="260.7" r="12.2" fill="#3fb4d9"/>
<circle cx="501.6" cy="259.8" r="11.8" fill="#3093ad"/>
<text x="501.6" y="262.8" font-size="8.9" stroke="#fff" stroke-width="0.3" fill="#fff" text-anchor="middle" textLength="20.8" lengthAdjust="spacingAndGlyphs">1000</text>
</g>
<g>
<circle cx="501.6" cy="286.9" r="12.2" fill="#3fb4d9"/>
<circle cx="501.6" cy="286.0" r="11.8" fill="#3093ad"/>
<text x="501.6" y="289.0" font-size="8.9" stroke="#fff" stroke-width="0.3" fill="#fff" text-anchor="middle" textLength="20.8" lengthAdjust="spacingAndGlyphs">1000</text>
</g>
<g>
<circle cx="501.6" cy="313.1" r="12.2" fill="#3fb4d9"/>
<circle cx="501.6" cy="312.2" r="11.8" fill="#3093ad"/>
<text x="501.6" y="315.2" font-size="8.9" stroke="#fff" stroke-width="0.3" fill="#fff" text-anchor="middle" textLength="20.8" lengthAdjust="spacingAndGlyphs">1000</text>
</g>
<g>
<circle cx="501.6" cy="339.3" r="12.2" fill="#3fb4d9"/>
<circle cx="501.6" cy="338.4" r="11.8" fill="#3093ad"/>
<text x="501.6" y="341.4" font-size="8.9" stroke="#fff" stroke-width="0.3" fill="#fff" text-anchor="middle" textLength="20.8" lengthAdjust="spacingAndGlyphs">1000</text>
</g>
<g>
<circle cx="501.6" cy="365.5" r="12.2" fill="#3fb4d9"/>
<circle cx="501.6" cy="364.6" r="11.8" fill="#3093ad"/>
<text x="501.6" y="367.6" font-size="8.9" stroke="#fff" stroke-width="0.3" fill="#fff" text-anchor="middle" textLength="20.8" lengthAdjust="spacingAndGlyphs">1000</text>
</g>
<g opacity="0.55">
<circle cx="501.6" cy="391.7" r="12.2" fill="#3fb4d9"/>
<circle cx="501.6" cy="390.8" r="11.8" fill="#3093ad"/>
<text x="501.6" y="393.8" font-size="8.9" stroke="#fff" stroke-width="0.3" fill="#fff" text-anchor="middle" textLength="20.8" lengthAdjust="spacingAndGlyphs">1000</text>
</g>
<path d="M489.0 378.3 L514.2 403.9 M514.2 378.3 L489.0 403.9" stroke="#d1232e" stroke-width="2.1" stroke-linecap="butt"/>
<g opacity="0.55">
<circle cx="501.6" cy="417.9" r="12.2" fill="#3fb4d9"/>
<circle cx="501.6" cy="417.0" r="11.8" fill="#3093ad"/>
<text x="501.6" y="420.0" font-size="8.9" stroke="#fff" stroke-width="0.3" fill="#fff" text-anchor="middle" textLength="20.8" lengthAdjust="spacingAndGlyphs">1000</text>
</g>
<path d="M489.0 404.5 L514.2 430.1 M514.2 404.5 L489.0 430.1" stroke="#d1232e" stroke-width="2.1" stroke-linecap="butt"/>
<g opacity="0.55">
<circle cx="501.6" cy="444.1" r="12.2" fill="#3fb4d9"/>
<circle cx="501.6" cy="443.2" r="11.8" fill="#3093ad"/>
<text x="501.6" y="446.2" font-size="8.9" stroke="#fff" stroke-width="0.3" fill="#fff" text-anchor="middle" textLength="20.8" lengthAdjust="spacingAndGlyphs">1000</text>
</g>
<path d="M489.0 430.7 L514.2 456.3 M514.2 430.7 L489.0 456.3" stroke="#d1232e" stroke-width="2.1" stroke-linecap="butt"/>
<g>
<circle cx="528.8" cy="208.3" r="12.2" fill="#6a4992"/>
<circle cx="528.8" cy="207.4" r="11.8" fill="#7f5ca9"/>
<text x="528.8" y="211.1" font-size="10.8" stroke="#fff" stroke-width="0.3" fill="#fff" text-anchor="middle" textLength="19.8" lengthAdjust="spacingAndGlyphs">100</text>
</g>
<g>
<circle cx="528.8" cy="234.5" r="12.2" fill="#6a4992"/>
<circle cx="528.8" cy="233.6" r="11.8" fill="#7f5ca9"/>
<text x="528.8" y="237.3" font-size="10.8" stroke="#fff" stroke-width="0.3" fill="#fff" text-anchor="middle" textLength="19.8" lengthAdjust="spacingAndGlyphs">100</text>
</g>
<g>
<circle cx="528.8" cy="260.7" r="12.2" fill="#6a4992"/>
<circle cx="528.8" cy="259.8" r="11.8" fill="#7f5ca9"/>
<text x="528.8" y="263.5" font-size="10.8" stroke="#fff" stroke-width="0.3" fill="#fff" text-anchor="middle" textLength="19.8" lengthAdjust="spacingAndGlyphs">100</text>
</g>
<g>
<circle cx="528.8" cy="286.9" r="12.2" fill="#6a4992"/>
<circle cx="528.8" cy="286.0" r="11.8" fill="#7f5ca9"/>
<text x="528.8" y="289.7" font-size="10.8" stroke="#fff" stroke-width="0.3" fill="#fff" text-anchor="middle" textLength="19.8" lengthAdjust="spacingAndGlyphs">100</text>
</g>
<g>
<circle cx="556.0" cy="208.3" r="12.2" fill="#e3d128"/>
<circle cx="556.0" cy="207.4" r="11.8" fill="#fae935"/>
<text x="556.0" y="212.3" font-size="14.2" font-weight="700" fill="#111" text-anchor="middle" textLength="16.9" lengthAdjust="spacingAndGlyphs">10</text>
</g>
<g>
<circle cx="556.0" cy="234.5" r="12.2" fill="#e3d128"/>
<circle cx="556.0" cy="233.6" r="11.8" fill="#fae935"/>
<text x="556.0" y="238.5" font-size="14.2" font-weight="700" fill="#111" text-anchor="middle" textLength="16.9" lengthAdjust="spacingAndGlyphs">10</text>
</g>
<g>
<circle cx="556.0" cy="260.7" r="12.2" fill="#e3d128"/>
<circle cx="556.0" cy="259.8" r="11.8" fill="#fae935"/>
<text x="556.0" y="264.7" font-size="14.2" font-weight="700" fill="#111" text-anchor="middle" textLength="16.9" lengthAdjust="spacingAndGlyphs">10</text>
</g>
<g>
<circle cx="556.0" cy="286.9" r="12.2" fill="#e3d128"/>
<circle cx="556.0" cy="286.0" r="11.8" fill="#fae935"/>
<text x="556.0" y="290.9" font-size="14.2" font-weight="700" fill="#111" text-anchor="middle" textLength="16.9" lengthAdjust="spacingAndGlyphs">10</text>
</g>
<g>
<circle cx="556.0" cy="313.1" r="12.2" fill="#e3d128"/>
<circle cx="556.0" cy="312.2" r="11.8" fill="#fae935"/>
<text x="556.0" y="317.1" font-size="14.2" font-weight="700" fill="#111" text-anchor="middle" textLength="16.9" lengthAdjust="spacingAndGlyphs">10</text>
</g>
<g>
<circle cx="583.2" cy="208.3" r="12.2" fill="#d84a70"/>
<circle cx="583.2" cy="207.4" r="11.8" fill="#ef6086"/>
<text x="583.2" y="212.2" font-size="14" font-weight="700" fill="#fff" text-anchor="middle">1</text>
</g>
<g>
<circle cx="583.2" cy="234.5" r="12.2" fill="#d84a70"/>
<circle cx="583.2" cy="233.6" r="11.8" fill="#ef6086"/>
<text x="583.2" y="238.4" font-size="14" font-weight="700" fill="#fff" text-anchor="middle">1</text>
</g>
<text x="84.6" y="482.9" font-size="15.5" fill="#1a1a1a" stroke="#1a1a1a" stroke-width="0.24" textLength="27.7" lengthAdjust="spacingAndGlyphs">650</text>
<text x="113.9" y="482.9" font-size="15.5" fill="#1a1a1a" stroke="#1a1a1a" stroke-width="0.24" textLength="26.3" lengthAdjust="spacingAndGlyphs">452</text>
<text x="145.8" y="482.9" font-size="15.5" fill="#1a1a1a" stroke="#1a1a1a" stroke-width="0.24" textLength="7.4" lengthAdjust="spacingAndGlyphs">&#8722;</text>
<text x="157.5" y="482.9" font-size="15.5" fill="#1a1a1a" stroke="#1a1a1a" stroke-width="0.24" textLength="40.0" lengthAdjust="spacingAndGlyphs">3000</text>
<text x="200.6" y="482.9" font-size="15.5" fill="#1a1a1a" stroke="#1a1a1a" stroke-width="0.24" textLength="9.3" lengthAdjust="spacingAndGlyphs">=</text>
<rect x="217.0" y="467.0" width="78.0" height="21.0" fill="#7bcfe6"/>
<text x="84.6" y="526.8" font-size="15.5" fill="#1a1a1a" stroke="#1a1a1a" stroke-width="0.24" textLength="41.1" lengthAdjust="spacingAndGlyphs">Count</text>
<text x="130.8" y="526.8" font-size="15.5" fill="#1a1a1a" stroke="#1a1a1a" stroke-width="0.24" textLength="33.6" lengthAdjust="spacingAndGlyphs">back</text>
<text x="168.6" y="526.8" font-size="15.5" fill="#1a1a1a" stroke="#1a1a1a" stroke-width="0.24" textLength="11.1" lengthAdjust="spacingAndGlyphs">in</text>
<text x="184.2" y="526.8" font-size="15.5" fill="#1a1a1a" stroke="#1a1a1a" stroke-width="0.24" textLength="38.0" lengthAdjust="spacingAndGlyphs">100s.</text>
<text x="84.6" y="558.4" font-size="15.5" fill="#1a1a1a" stroke="#1a1a1a" stroke-width="0.24" textLength="27.7" lengthAdjust="spacingAndGlyphs">650</text>
<text x="114.5" y="558.4" font-size="15.5" fill="#f28c28" stroke="#f28c28" stroke-width="0.24" textLength="9.9" lengthAdjust="spacingAndGlyphs">4</text>
<text x="123.9" y="558.4" font-size="15.5" fill="#1a1a1a" stroke="#1a1a1a" stroke-width="0.24" textLength="21.1" lengthAdjust="spacingAndGlyphs">52,</text>
<text x="148.5" y="558.4" font-size="15.5" fill="#1a1a1a" stroke="#1a1a1a" stroke-width="0.24" textLength="27.3" lengthAdjust="spacingAndGlyphs">650</text>
<text x="178.8" y="558.4" font-size="15.5" fill="#f28c28" stroke="#f28c28" stroke-width="0.24" textLength="9.4" lengthAdjust="spacingAndGlyphs">3</text>
<text x="187.9" y="558.4" font-size="15.5" fill="#1a1a1a" stroke="#1a1a1a" stroke-width="0.24" textLength="20.2" lengthAdjust="spacingAndGlyphs">52,</text>
<rect x="216.5" y="542.1" width="78.0" height="21.0" fill="#7bcfe6"/>
<text x="297.7" y="558.3" font-size="16" font-style="italic" fill="#1a1a1a" stroke="#1a1a1a" stroke-width="0.3">,</text>
<rect x="309.2" y="542.1" width="78.0" height="21.0" fill="#7bcfe6"/>
<text x="84.6" y="589.8" font-size="15.5" fill="#1a1a1a" stroke="#1a1a1a" stroke-width="0.24" textLength="27.7" lengthAdjust="spacingAndGlyphs">650</text>
<text x="113.9" y="589.8" font-size="15.5" fill="#1a1a1a" stroke="#1a1a1a" stroke-width="0.24" textLength="26.3" lengthAdjust="spacingAndGlyphs">452</text>
<text x="145.8" y="589.8" font-size="15.5" fill="#1a1a1a" stroke="#1a1a1a" stroke-width="0.24" textLength="7.4" lengthAdjust="spacingAndGlyphs">&#8722;</text>
<text x="157.0" y="589.8" font-size="15.5" fill="#1a1a1a" stroke="#1a1a1a" stroke-width="0.24" textLength="30.5" lengthAdjust="spacingAndGlyphs">300</text>
<text x="190.5" y="589.8" font-size="15.5" fill="#1a1a1a" stroke="#1a1a1a" stroke-width="0.24" textLength="9.1" lengthAdjust="spacingAndGlyphs">=</text>
<rect x="206.7" y="573.9" width="78.0" height="21.0" fill="#7bcfe6"/>
<text x="84.6" y="642.3" font-size="15.5" fill="#1a1a1a" stroke="#1a1a1a" stroke-width="0.24" textLength="41.1" lengthAdjust="spacingAndGlyphs">Count</text>
<text x="130.8" y="642.3" font-size="15.5" fill="#1a1a1a" stroke="#1a1a1a" stroke-width="0.24" textLength="33.6" lengthAdjust="spacingAndGlyphs">back</text>
<text x="168.6" y="642.3" font-size="15.5" fill="#1a1a1a" stroke="#1a1a1a" stroke-width="0.24" textLength="11.1" lengthAdjust="spacingAndGlyphs">in</text>
<text x="184.2" y="642.3" font-size="15.5" fill="#1a1a1a" stroke="#1a1a1a" stroke-width="0.24" textLength="27.6" lengthAdjust="spacingAndGlyphs">10s.</text>
<text x="84.6" y="673.9" font-size="15.5" fill="#1a1a1a" stroke="#1a1a1a" stroke-width="0.24" textLength="27.7" lengthAdjust="spacingAndGlyphs">650</text>
<text x="114.3" y="673.9" font-size="15.5" fill="#1a1a1a" stroke="#1a1a1a" stroke-width="0.24" textLength="9.6" lengthAdjust="spacingAndGlyphs">4</text>
<text x="124.1" y="673.9" font-size="15.5" fill="#f28c28" stroke="#f28c28" stroke-width="0.24" textLength="9.7" lengthAdjust="spacingAndGlyphs">5</text>
<text x="133.9" y="673.9" font-size="15.5" fill="#1a1a1a" stroke="#1a1a1a" stroke-width="0.24" textLength="11.2" lengthAdjust="spacingAndGlyphs">2,</text>
<text x="148.5" y="673.9" font-size="15.5" fill="#1a1a1a" stroke="#1a1a1a" stroke-width="0.24" textLength="27.3" lengthAdjust="spacingAndGlyphs">650</text>
<text x="178.7" y="673.9" font-size="15.5" fill="#1a1a1a" stroke="#1a1a1a" stroke-width="0.24" textLength="9.5" lengthAdjust="spacingAndGlyphs">4</text>
<text x="188.5" y="673.9" font-size="15.5" fill="#f28c28" stroke="#f28c28" stroke-width="0.24" textLength="9.5" lengthAdjust="spacingAndGlyphs">4</text>
<text x="198.3" y="673.9" font-size="15.5" fill="#1a1a1a" stroke="#1a1a1a" stroke-width="0.24" textLength="10.2" lengthAdjust="spacingAndGlyphs">2,</text>
<rect x="217.0" y="658.3" width="78.0" height="21.0" fill="#7bcfe6"/>
<text x="297.9" y="674.2" font-size="16" font-style="italic" fill="#1a1a1a" stroke="#1a1a1a" stroke-width="0.3">,</text>
<rect x="309.7" y="658.3" width="78.0" height="21.0" fill="#7bcfe6"/>
<text x="84.6" y="705.3" font-size="15.5" fill="#1a1a1a" stroke="#1a1a1a" stroke-width="0.24" textLength="27.7" lengthAdjust="spacingAndGlyphs">650</text>
<text x="113.9" y="705.3" font-size="15.5" fill="#1a1a1a" stroke="#1a1a1a" stroke-width="0.24" textLength="26.3" lengthAdjust="spacingAndGlyphs">452</text>
<text x="145.8" y="705.3" font-size="15.5" fill="#1a1a1a" stroke="#1a1a1a" stroke-width="0.24" textLength="7.4" lengthAdjust="spacingAndGlyphs">&#8722;</text>
<text x="157.0" y="705.3" font-size="15.5" fill="#1a1a1a" stroke="#1a1a1a" stroke-width="0.24" textLength="19.6" lengthAdjust="spacingAndGlyphs">30</text>
<text x="180.0" y="705.3" font-size="15.5" fill="#1a1a1a" stroke="#1a1a1a" stroke-width="0.24" textLength="8.7" lengthAdjust="spacingAndGlyphs">=</text>
<rect x="196.0" y="690.1" width="78.0" height="21.0" fill="#7bcfe6"/>
</svg></body></html>
